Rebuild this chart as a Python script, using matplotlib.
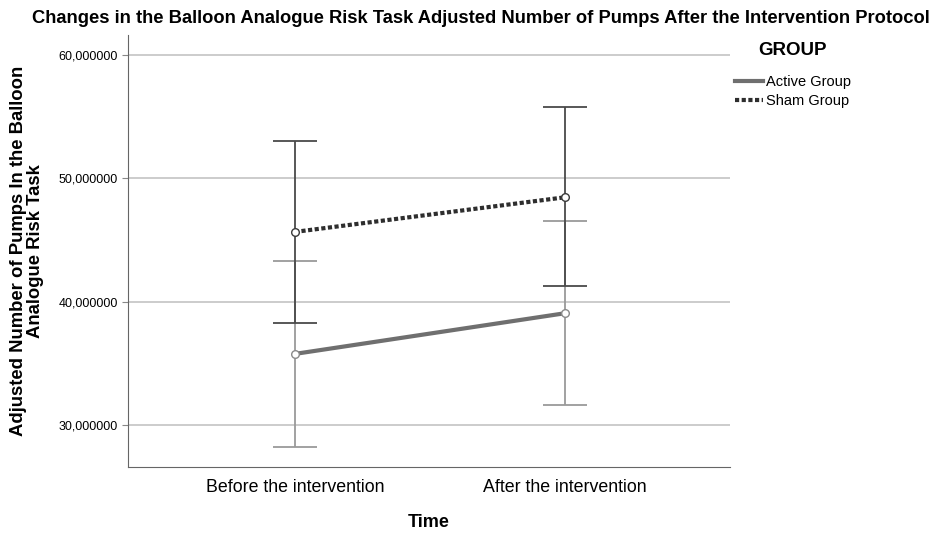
import matplotlib.pyplot as plt
from matplotlib.ticker import FuncFormatter
from matplotlib.lines import Line2D

plt.rcParams['font.family'] = ['Liberation Sans', 'DejaVu Sans']

# 数据
time_labels = ['Before the intervention', 'After the intervention']
active_mean = [35.76, 39.06]
active_low = [28.22, 31.62]
active_high = [43.32, 46.52]
sham_mean = [45.65, 48.46]
sham_low = [38.30, 41.27]
sham_high = [53.03, 55.78]

fig = plt.figure(figsize=(9.38, 5.33), dpi=100)
ax = fig.add_axes([0.1365, 0.124, 0.6418, 0.81])

x = [0, 1]

# 误差条
def draw_err(mean, low, high, color):
    err = [[m - l for m, l in zip(mean, low)], [h - m for m, h in zip(mean, high)]]
    ax.errorbar(x, mean, yerr=err, fmt='none', ecolor=color, elinewidth=1.3,
                capsize=15.5, capthick=1.3, zorder=2)

draw_err(active_mean, active_low, active_high, '#9a9a9a')
draw_err(sham_mean, sham_low, sham_high, '#4a4a4a')

ax.plot(x, active_mean, color='#6f6f6f', linewidth=3, marker='o', markersize=5.5,
        markerfacecolor='white', markeredgecolor='#8a8a8a', zorder=3)
ax.plot(x, sham_mean, color='#2e2e2e', linewidth=3, linestyle=(0, (1, 0.6)), marker='o',
        markersize=5.5, markerfacecolor='white', markeredgecolor='#3a3a3a', zorder=3)

ax.set_xlim(-0.617, 1.61)
ax.set_ylim(26.6, 61.6)
ax.set_yticks([30, 40, 50, 60])
ax.yaxis.set_major_formatter(FuncFormatter(lambda v, p: '%d,000000' % v))
ax.set_xticks(x)
ax.set_xticklabels(time_labels, fontsize=12.8)
ax.tick_params(axis='x', length=0, pad=9)
ax.tick_params(axis='y', labelsize=9, length=4, color='#888888')
ax.grid(axis='y', color='#c8c8c8', linewidth=1.3)
ax.set_axisbelow(True)
for s in ['top', 'right']:
    ax.spines[s].set_visible(False)
for s in ['left', 'bottom']:
    ax.spines[s].set_color('#666666')

ax.set_xlabel('Time', fontsize=13, fontweight='bold', labelpad=13)
ax.set_ylabel('Adjusted Number of Pumps In the Balloon\nAnalogue Risk Task', fontsize=13.3,
              fontweight='bold', labelpad=10, linespacing=1.05)

fig.suptitle('Changes in the Balloon Analogue Risk Task Adjusted Number of Pumps After the Intervention Protocol',
             x=0.513, y=0.982, fontsize=13.2, fontweight='bold')

handles = [Line2D([], [], color='#6f6f6f', linewidth=3),
           Line2D([], [], color='#2e2e2e', linewidth=3, linestyle=(0, (1, 0.6)))]
ax.legend(handles, ['Active Group', 'Sham Group'], loc='upper left',
          bbox_to_anchor=(0.9985, 0.922), frameon=False, fontsize=10.5,
          handlelength=1.9, handletextpad=0.25, labelspacing=0.35, borderaxespad=0)
fig.text(0.808, 0.906, 'GROUP', fontsize=13.5, fontweight='bold', va='center')

plt.savefig('out.png', dpi=100)
